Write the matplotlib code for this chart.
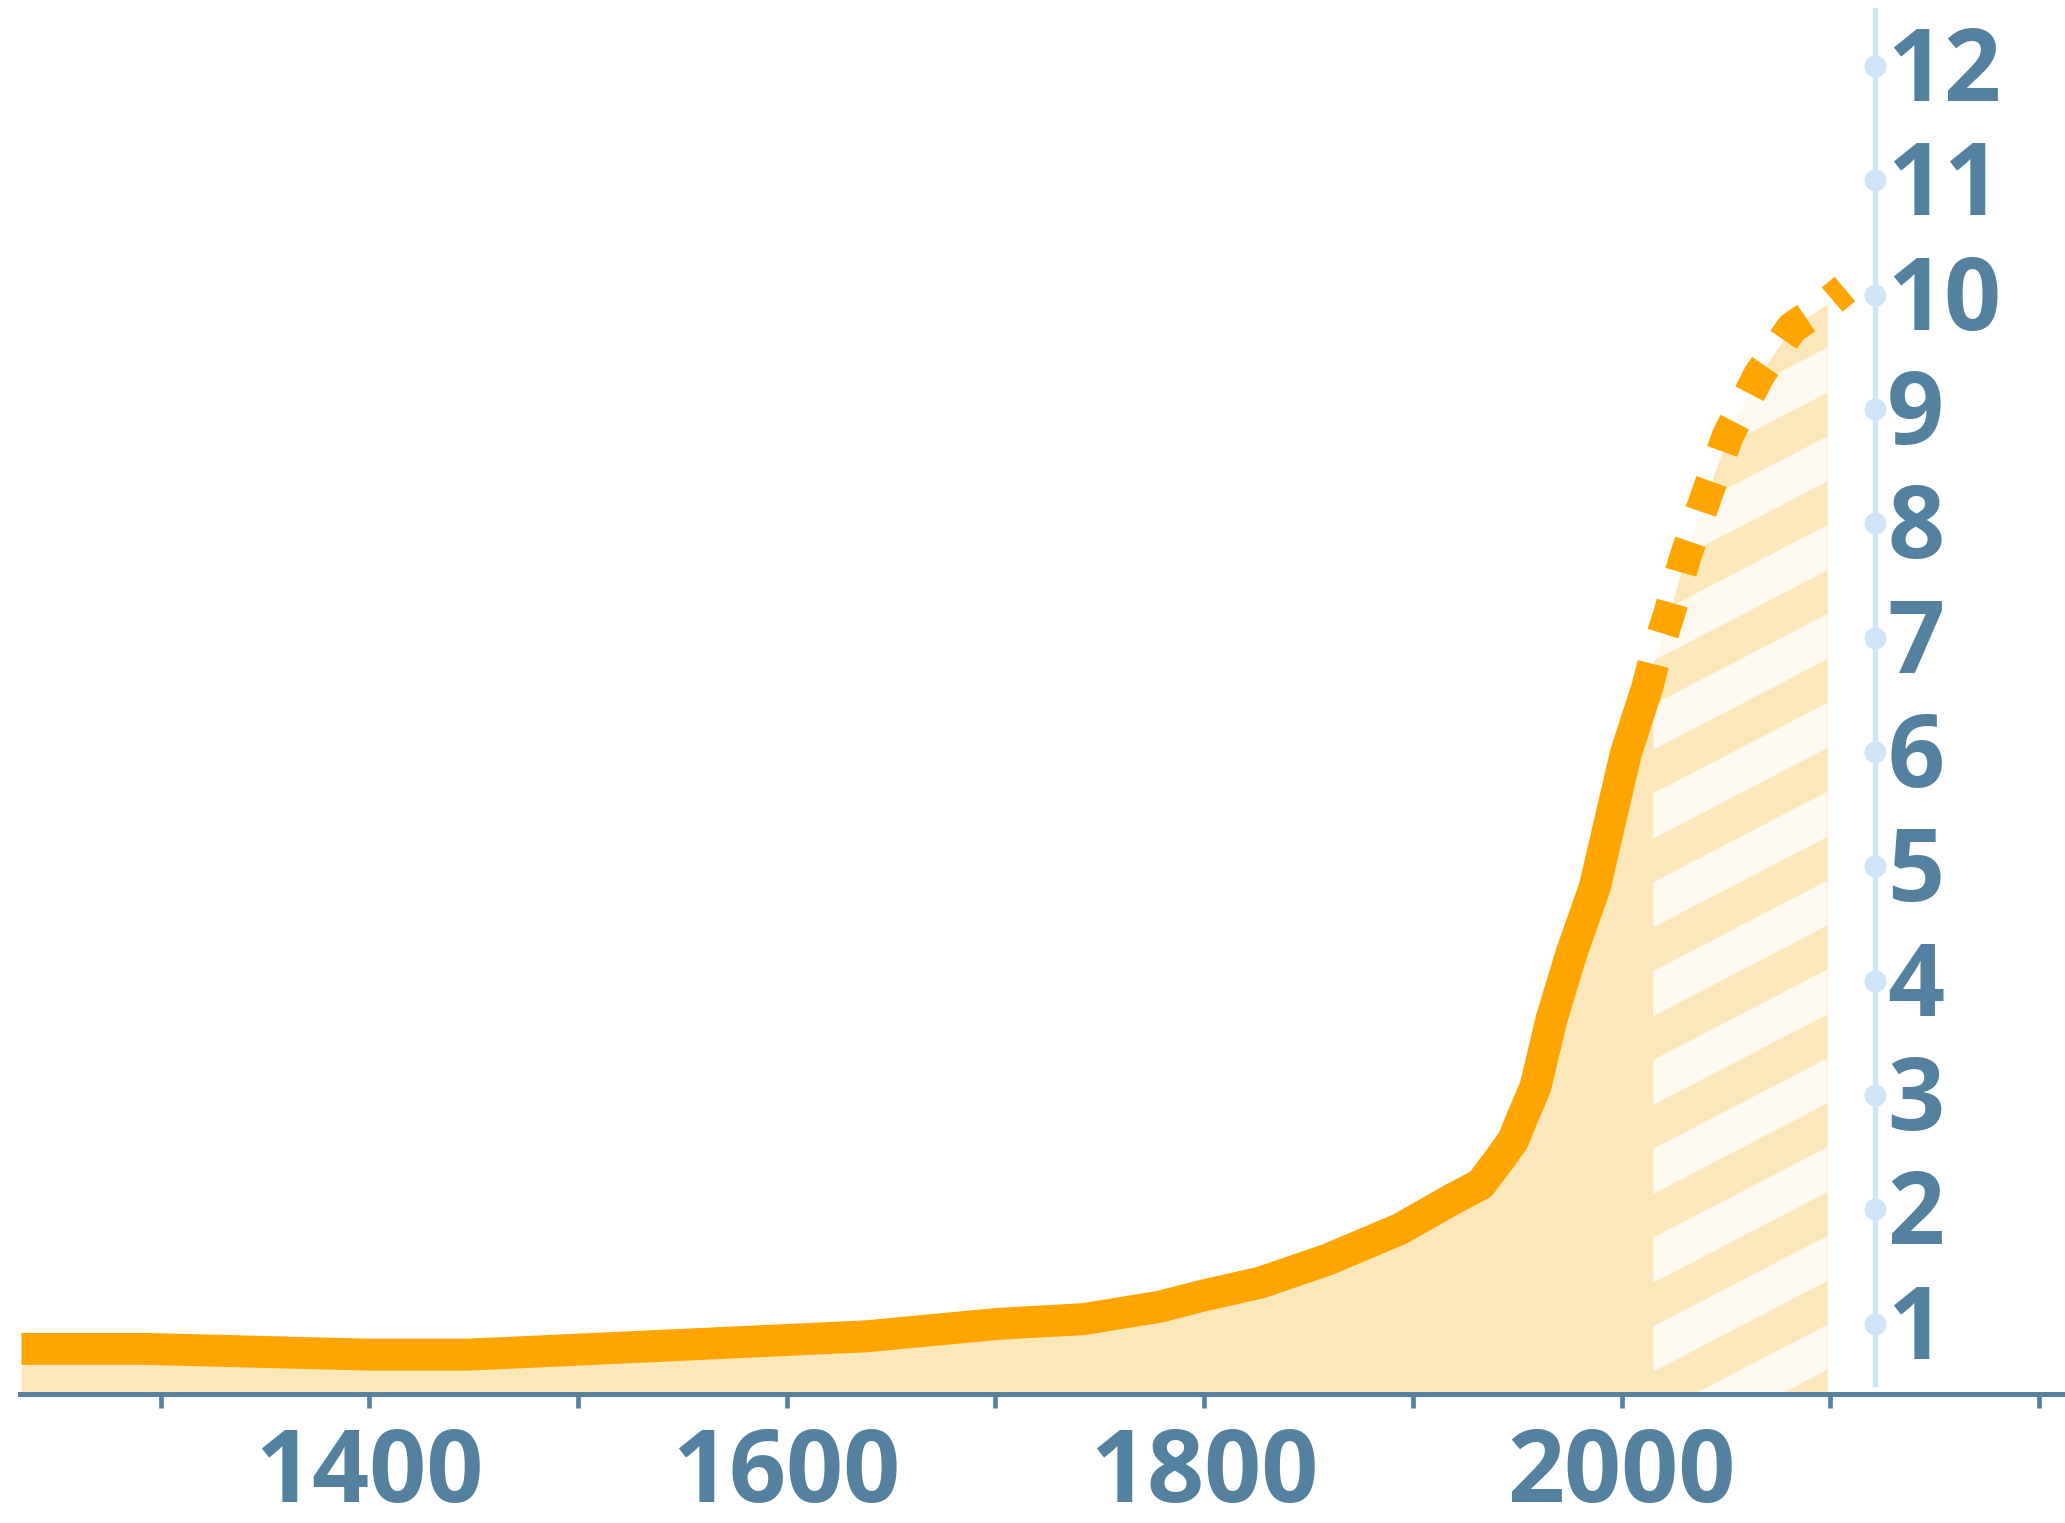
import numpy as np
import matplotlib
matplotlib.use("Agg")
import matplotlib.pyplot as plt
from matplotlib.patches import Polygon

# ---------------- data (billions of people) ----------------
hist_years = [1233.3, 1293, 1399, 1447, 1472, 1638, 1702, 1742, 1779, 1798, 1827,
              1859, 1894, 1919, 1932.5, 1941.6, 1948.2, 1952.4, 1958.7, 1966.4,
              1976, 1987.2, 1994.7, 2002.1, 2012.4, 2015.2]
hist_pop = [0.78, 0.78, 0.73, 0.73, 0.75, 0.89, 1.00, 1.04, 1.15, 1.24, 1.36,
            1.56, 1.83, 2.09, 2.22, 2.44, 2.61, 2.80, 3.07, 3.66,
            4.24, 4.82, 5.41, 5.99, 6.57, 6.77]
proj_years = [2015.2, 2023, 2030.6, 2041.6, 2051, 2066, 2081.6, 2098.6, 2107]
proj_pop = [6.77, 7.22, 7.71, 8.29, 8.77, 9.30, 9.71, 9.92, 10.05]

x_ticks = [1300, 1400, 1500, 1600, 1700, 1800, 1900, 2000, 2100, 2200]
x_labels = ['', '1400', '', '1600', '', '1800', '', '2000', '', '']
y_ticks = [1, 2, 3, 4, 5, 6, 7, 8, 9, 10, 11, 12]
y_labels = [str(v) for v in y_ticks]

# ---------------- style ----------------
ORANGE = '#ffa500'
FILL = '#fbe7ba'
STRIPE = '#fef9f0'
AXIS = '#5682a0'
LABEL = '#5581a0'
YAXIS = '#d0e6f8'

plt.rcParams['font.family'] = ['Open Sans', 'DejaVu Sans']
plt.rcParams['font.weight'] = 'bold'

W, H = 2065, 1523
fig = plt.figure(figsize=(W / 100, H / 100), dpi=100)
ax = fig.add_axes([20 / W, (H - 1393.5) / H, (W - 20) / W, (1393.5 - 10) / H])
ax.set_xlim(1232.6, 2212.5)
ax.set_ylim(0.39, 12.49)
base = ax.get_ylim()[0]

# area under the curve (history + projection up to the end of the shaded zone)
fill_x = hist_years + proj_years[1:-1]
fill_y = hist_pop + proj_pop[1:-1]
area = ax.fill_between(fill_x, fill_y, base, color=FILL, lw=0, zorder=1)

# diagonal stripes over the projection zone, clipped to the area
x0, x1 = proj_years[0], 2100.5
slope = 0.52 * (2.087 / 114.3)      # stripe slope in data units per year
period, thick, phase = 0.777, 0.394, 2.913
clip_path = area.get_paths()[0]
for k in range(-8, 14):
    b = phase + k * period
    rise = slope * (x1 - x0)
    poly = Polygon([(x0, b), (x1, b + rise), (x1, b + rise + thick), (x0, b + thick)],
                   closed=True, facecolor=STRIPE, edgecolor='none', zorder=2)
    ax.add_patch(poly)
    poly.set_clip_path(clip_path, ax.transData)

# population line: solid history, dashed projection
ax.plot(hist_years, hist_pop, color=ORANGE, lw=23, solid_capstyle='butt',
        solid_joinstyle='round', zorder=4, clip_on=False)
ax.plot(proj_years, proj_pop, color=ORANGE, lw=23, ls=(1, (1, 1)),
        dash_capstyle='butt', dash_joinstyle='round', zorder=4, clip_on=False)

# axes styling
for s in ['top', 'left']:
    ax.spines[s].set_visible(False)
ax.spines['bottom'].set_color(AXIS)
ax.spines['bottom'].set_linewidth(3.6)
ax.spines['bottom'].set_zorder(6)

# value axis on the right: light line with dots, labels beside it
yaxis_x = 2121.4
ax.spines['right'].set_position(('data', yaxis_x))
ax.spines['right'].set_color(YAXIS)
ax.spines['right'].set_linewidth(3.8)
ax.spines['right'].set_bounds(0.47, 12.49)
ax.plot([yaxis_x] * len(y_ticks), y_ticks, 'o', ms=15.8, color=YAXIS,
        mec='none', clip_on=False, zorder=5)
ax.yaxis.tick_right()
ax.set_yticks(y_ticks)
ax.set_yticklabels([])
ax.tick_params(axis='y', length=0)
for v, lab in zip(y_ticks, y_labels):
    ax.annotate(lab, xy=(yaxis_x, v), xytext=(8.8, -25.2), textcoords='offset points',
                ha='left', va='baseline', fontsize=72, fontweight='bold',
                color=LABEL, annotation_clip=False)

ax.set_xticks(x_ticks)
ax.set_xticklabels(x_labels)
ax.tick_params(axis='x', direction='out', length=10.4, width=3.4, color=AXIS,
               pad=12.4, labelsize=72, labelcolor=LABEL)
for lab in ax.get_xticklabels():
    lab.set_fontweight('bold')

fig.savefig('out.png', dpi=100, facecolor='white')
